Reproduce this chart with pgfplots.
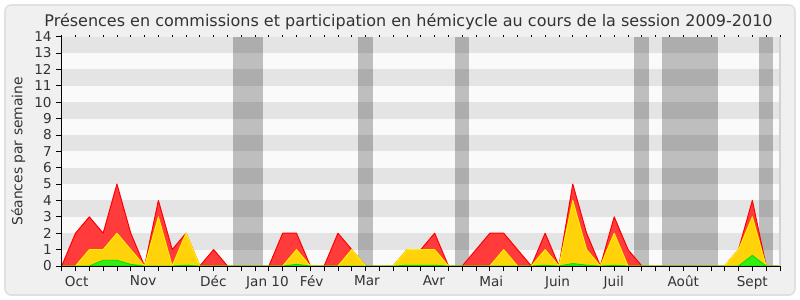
\documentclass[border=0pt]{standalone}
\usepackage{pgfplots}
\pgfplotsset{compat=1.18}
\usepackage{pgfplotstable}
\usepackage{fontspec}
\setmainfont{DejaVu Sans}
\definecolor{bgc}{HTML}{F0F0F0}
\definecolor{framec}{HTML}{E0E0E0}
\definecolor{plotbg}{HTML}{FAFAFA}
\definecolor{vacc}{HTML}{BEBEBE}
\definecolor{redfill}{HTML}{FF3B3B}
\definecolor{redline}{HTML}{FF0000}
\definecolor{yelfill}{HTML}{FFD20A}
\definecolor{yelline}{HTML}{FFF000}
\definecolor{grnfill}{HTML}{33EE11}
\definecolor{grnline}{HTML}{00DD00}
\definecolor{txt}{HTML}{333333}

\pgfplotstableread{
x r y g
0 0 0 0
1 2 0 0
2 3 1 0
3 2 1 0.35
4 5 2 0.35
5 2 1 0.1
6 0 0 0
7 4 3 0
8 1 0 0
9 2 2 0.05
10 0 0 0
11 1 0 0
12 0 0 0
13 0 0 0
14 0 0 0
15 0 0 0
16 2 0 0
17 2 1 0.1
18 0 0 0
19 0 0 0
20 2 0 0
21 1 1 0
22 0 0 0
23 0 0 0
24 0 0 0
25 1 1 0.05
26 1 1 0.05
27 2 1 0.05
28 0 0 0
29 0 0 0
30 1 0 0
31 2 0 0
32 2 1 0
33 1 0 0
34 0 0 0
35 2 1 0.05
36 0 0 0
37 5 4 0.15
38 2 1 0.05
39 0 0 0
40 3 2 0.05
41 1 0 0
42 0 0 0
43 0 0 0
44 0 0 0
45 0 0 0
46 0 0 0
47 0 0 0
48 0 0 0
49 1 1 0
50 4 3 0.65
51 0 0 0
52 0 0 0
}\datatable

\begin{document}
\begin{tikzpicture}[x=0.75pt,y=0.75pt]
\path[use as bounding box] (0,0) rectangle (800,300);
\fill[white] (0,0) rectangle (800,300);
\draw[framec, fill=bgc, rounded corners=4.5pt, line width=1.2pt] (5,5) rectangle (795,295);
\node[txt, font=\fontsize{12}{14}\selectfont, anchor=base, inner sep=0pt] at (408.5,273.3) {Présences en commissions et participation en hémicycle au cours de la session 2009-2010};
\begin{axis}[
  at={(46.275pt,25.5pt)}, anchor=south west,
  width=538.7pt, height=172pt, scale only axis,
  xmin=0, xmax=52, ymin=0, ymax=14,
  axis x line*=bottom, axis y line*=left,
  axis line style={black, line width=0.75pt},
  axis background/.style={fill=plotbg},
  axis on top,
  tick align=outside,
  major tick length=4pt,
  tick style={black, line width=0.6pt},
  ytick={0,...,14},
  xtick={0,...,52},
  xticklabels={},
  extra x ticks={1.08,5.9,10.98,14.9,18.1,22.1,26.95,31.1,35.9,39.97,45,50},
  extra x tick labels={Oct,Nov,Déc,Jan 10,Fév,Mar,Avr,Mai,Juin,Juil,Août,Sept},
  extra x tick style={major tick length=0pt, xticklabel style={yshift=-4pt}},
  ticklabel style={txt, font=\fontsize{10.2}{12}\selectfont},
  /pgf/number format/assume math mode=true,
  ylabel={Séances par semaine},
  every axis y label/.style={at={(axis description cs:-0.0604,0.5)}, rotate=90, anchor=center, txt, font=\fontsize{10.4}{12}\selectfont},
  clip=false,
]
% vacation bands
\addplot[fill=vacc, draw=none] coordinates {(12.43,0) (12.43,14) (14.56,14) (14.56,0)} -- cycle;
\addplot[fill=vacc, draw=none] coordinates {(21.45,0) (21.45,14) (22.52,14) (22.52,0)} -- cycle;
\addplot[fill=vacc, draw=none] coordinates {(28.48,0) (28.48,14) (29.5,14) (29.5,0)} -- cycle;
\addplot[fill=vacc, draw=none] coordinates {(41.46,0) (41.46,14) (42.5,14) (42.5,0)} -- cycle;
\addplot[fill=vacc, draw=none] coordinates {(43.47,0) (43.47,14) (47.5,14) (47.5,0)} -- cycle;
\addplot[fill=vacc, draw=none] coordinates {(50.49,0) (50.49,14) (51.53,14) (51.53,0)} -- cycle;
% stripes
\pgfplotsinvokeforeach{1,3,5,7,9,11,13}{
  \fill[black, opacity=0.085] (axis cs:0,#1) rectangle (axis cs:52,#1+1);
}
% data
\addplot[fill=redfill, draw=redline, line width=0.75pt, line join=round] table[x=x, y=r] {\datatable} \closedcycle;
\addplot[fill=yelfill, draw=yelline, line width=0.75pt, line join=round] table[x=x, y=y] {\datatable} \closedcycle;
\addplot[fill=grnfill, draw=grnline, line width=0.6pt, line join=round] table[x=x, y=g] {\datatable} \closedcycle;
\end{axis}
\begin{axis}[
  at={(46.275pt,25.5pt)}, anchor=south west,
  width=538.7pt, height=172pt, scale only axis,
  xmin=0, xmax=52, ymin=0, ymax=14,
  axis x line*=top, hide y axis,
  x axis line style={draw=none},
  tick align=outside, major tick length=1pt,
  tick style={black, line width=0.6pt},
  xtick={0,...,52}, xticklabels={},
  clip=false,
]
\draw[gray!35, line width=1.2pt] (rel axis cs:1,0) -- (rel axis cs:1,1);
\end{axis}
\end{tikzpicture}
\end{document}
